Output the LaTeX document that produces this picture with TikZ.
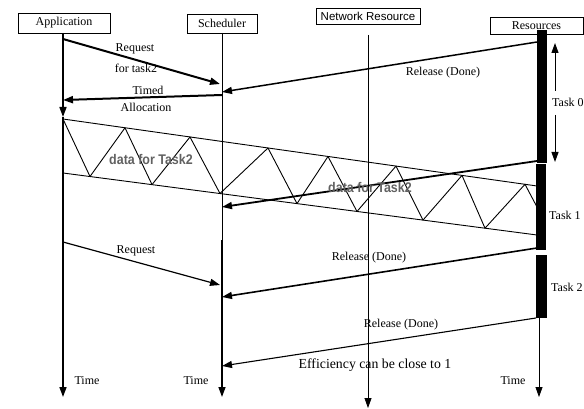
\documentclass[tikz,border=0pt]{standalone}
\usepackage{fontspec}
\setmainfont{Liberation Serif}
\setsansfont{Liberation Sans}
\usetikzlibrary{arrows.meta}

\begin{document}
\begin{tikzpicture}[x=1pt,y=-1pt,
    box/.style={draw,inner sep=0pt,font=\fontsize{12}{14}\selectfont},
    lbl/.style={inner sep=1pt,font=\fontsize{12}{14}\selectfont},
    tip/.style={-{Triangle[length=10pt,width=7pt]}},
    msg/.style={tip,line width=1.6pt},
    dat/.style={inner sep=0pt,text=black!62,font=\sffamily\bfseries\fontsize{14}{16}\selectfont}]
    \useasboundingbox (0,0) rectangle (584,409);

    % boxes
    \node[box,minimum width=92pt,minimum height=20pt] (app) at (64,23) {Application};
    \node[box,minimum width=70pt,minimum height=19pt] (sch) at (222,23.5) {Scheduler};
    \node[box,minimum width=104pt,minimum height=16pt,font=\sffamily\fontsize{11.5}{13}\selectfont] (net) at (368,16) {Network Resource};
    \node[box,minimum width=93pt,minimum height=17pt] (res) at (536.5,25.5) {Resources};

    % ends of the lines
    \coordinate (a0) at (63,33);   \coordinate (a1) at (63,117);  \coordinate (a2) at (63,397);
    \coordinate (s0) at (222,33);  \coordinate (s1) at (222,240); \coordinate (s2) at (222,397);
    \coordinate (n0) at (368,35);  \coordinate (n1) at (368,408);
    \coordinate (r0) at (539,318); \coordinate (r1) at (539,397);

    % life lines
    \draw[tip,line width=1.6pt] (a0) -- (a1);
    \draw[tip,line width=1.6pt] (a1) -- (a2);
    \draw[line width=1pt] (s0) -- (s1);
    \draw[tip,line width=1.4pt] (s1) -- (s2);
    \draw[tip,line width=0.8pt] (n0) -- (n1);
    \draw[tip,line width=0.8pt] (r0) -- (r1);

    % task bars
    \fill (537,30) rectangle (547,163);
    \fill (536,164) rectangle (546,250);
    \fill (536,255) rectangle (547,318);
    \node[lbl,anchor=west] (t0) at (551,102) {Task 0};
    \node[lbl,anchor=west] (t1) at (548,215) {Task 1};
    \node[lbl,anchor=west] (t2) at (550,287) {Task 2};
    \coordinate (t0a) at (555,43); \coordinate (t0b) at (555,162);
    \draw[tip,line width=1pt] (555,91) -- (t0a);
    \draw[tip,line width=1pt] (555,115) -- (t0b);

    % messages
    \coordinate (m1a) at (63,39);   \coordinate (m1b) at (220,84);
    \coordinate (m2a) at (537,42);  \coordinate (m2b) at (222,92);
    \coordinate (m3a) at (222,95);  \coordinate (m3b) at (63,100);
    \coordinate (m4a) at (537,161); \coordinate (m4b) at (222,207);
    \coordinate (m5a) at (63,242);  \coordinate (m5b) at (220,285);
    \coordinate (m6a) at (537,248); \coordinate (m6b) at (222,297);
    \coordinate (m7a) at (536,318); \coordinate (m7b) at (222,366);
    \draw[msg,line width=2pt] (m1a) -- (m1b);
    \draw[msg,line width=1.5pt] (m2a) -- (m2b);
    \draw[msg,line width=2pt] (m3a) -- (m3b);
    \draw[msg,line width=1.8pt] (m4a) -- (m4b);
    \draw[msg,line width=1.2pt] (m5a) -- (m5b);
    \draw[msg,line width=1.6pt] (m6a) -- (m6b);
    \draw[msg,line width=1.1pt] (m7a) -- (m7b);

    % data band
    \coordinate (d0) at (63,119);  \coordinate (d1) at (537,186);
    \coordinate (d2) at (63,173);  \coordinate (d3) at (537,235);
    \draw[line width=0.9pt] (d0) -- (d1);
    \draw[line width=0.9pt] (d2) -- (d3);
    \draw[line width=0.9pt,line join=round] (d0) -- (90,176.5) -- (125,127.8) -- (152,184.6) -- (190,137)
        -- (220,193.5) -- (268,148) -- (297,203.6) -- (328,156.5) -- (357,211.5) -- (396,166.1)
        -- (423,220.1) -- (462,175.4) -- (485,228.2) -- (525,184.3) -- (537,207);
    \node[dat] (data1) at (151,159) {\scalebox{0.89}[1]{data for Task2}};
    \node[dat] (data2) at (370,187) {\scalebox{0.89}[1]{data for Task2}};

    % labels
    \node[lbl] (l1) at (135,49) {Request};
    \node[lbl] (l2) at (136,68) {for task2};
    \node[lbl] (l3) at (443,73) {Release (Done)};
    \node[lbl] (l4) at (148,90) {Timed};
    \node[lbl] (l5) at (146,107) {Allocation};
    \node[lbl] (l6) at (136,251) {Request};
    \node[lbl] (l7) at (369,258) {Release (Done)};
    \node[lbl] (l8) at (401,325) {Release (Done)};
    \node[lbl,font=\fontsize{13.8}{16}\selectfont] (l9) at (375,365) {Efficiency can be close to 1};
    \node[lbl] (time1) at (87,381) {Time};
    \node[lbl] (time2) at (196,381) {Time};
    \node[lbl] (time3) at (513,381) {Time};
\end{tikzpicture}
\end{document}
